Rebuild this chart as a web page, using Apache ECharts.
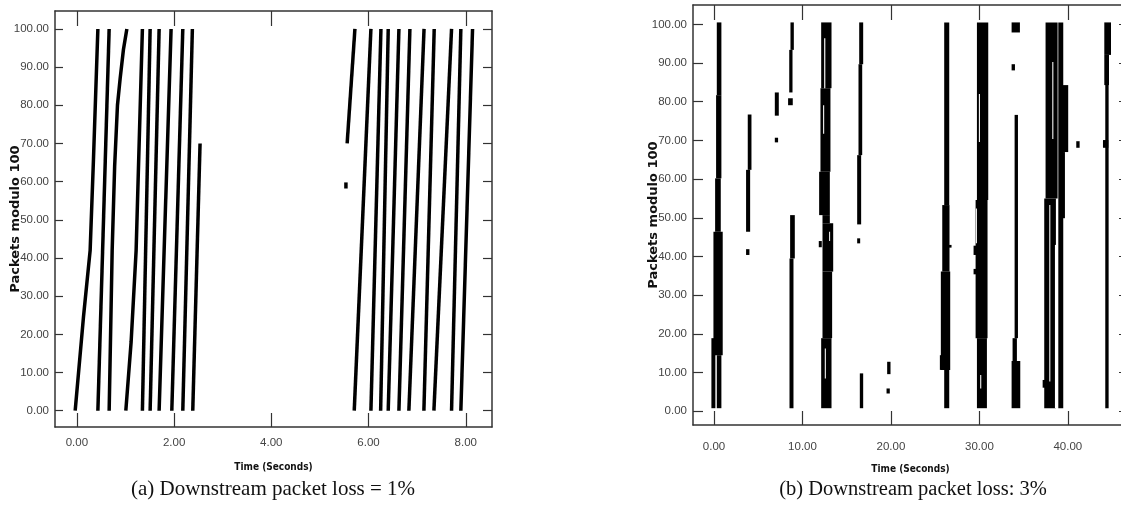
<!DOCTYPE html>
<html>
<head>
<meta charset="utf-8">
<script src="https://cdn.jsdelivr.net/npm/echarts@6/dist/echarts.min.js"></script>
<style>
  html, body { margin: 0; padding: 0; background: #fff; }
  #chart { width: 1121px; height: 505px; }
</style>
</head>
<body>
<div id="chart"></div>
<script>
// Tick positions for both panels
const xTicksA = [0, 2, 4, 6, 8];
const xTicksB = [0, 10, 20, 30, 40];
const yTicks = [0, 10, 20, 30, 40, 50, 60, 70, 80, 90, 100];

// Panel (a): each trace is a run of packets, [time (s), sequence mod 100] points
const strokesA = [
  [[-0.035, 0], [0.136, 24.6], [0.273, 42], [0.341, 65.7], [0.432, 100]],
  [[0.432, 0], [0.664, 100]],
  [[0.664, 0], [0.726, 42], [0.777, 64], [0.835, 80], [0.890, 87], [0.958, 94.6], [1.028, 100]],
  [[1.007, 0], [1.116, 18], [1.219, 42], [1.348, 100]],
  [[1.348, 0], [1.507, 100]],
  [[1.507, 0], [1.692, 100]],
  [[1.692, 0], [1.938, 100]],
  [[1.953, 0], [2.179, 100]],
  [[2.179, 0], [2.376, 100]],
  [[2.384, 0], [2.534, 70]],
  [[5.560, 70], [5.720, 100]],
  [[5.535, 58.2], [5.535, 59.8]],
  [[5.706, 0], [6.049, 100]],
  [[6.049, 0], [6.255, 100]],
  [[6.249, 0], [6.405, 100]],
  [[6.405, 0], [6.625, 100]],
  [[6.625, 0], [6.851, 100]],
  [[6.830, 0], [7.142, 100]],
  [[7.139, 0], [7.351, 100]],
  [[7.345, 0], [7.708, 100]],
  [[7.708, 0], [7.899, 100]],
  [[7.899, 0], [8.140, 100]]
];

// Panel (b): received packet bursts, [start s, end s, low seq, high seq]
const burstsB = [
  [0.31, 0.83, 81.7, 100.5],
  [0.23, 0.83, 60.2, 81.7],
  [0.12, 0.76, 46.4, 60.2],
  [-0.07, 0.98, 14.5, 46.4],
  [0.31, 0.83, 0.8, 14.5],
  [-0.30, 0.15, 0.8, 18.9],
  [3.81, 4.23, 62.4, 76.7],
  [3.62, 4.08, 46.4, 62.4],
  [3.62, 4.00, 40.4, 41.9],
  [6.87, 7.32, 76.4, 82.4],
  [6.87, 7.24, 69.5, 70.7],
  [8.64, 9.02, 93.4, 100.5],
  [8.50, 8.87, 82.4, 93.4],
  [8.37, 8.90, 79.1, 80.9],
  [8.60, 9.13, 39.5, 50.7],
  [8.53, 8.98, 0.8, 39.5],
  [12.11, 13.28, 83.5, 100.5],
  [12.03, 13.16, 61.9, 83.5],
  [11.88, 13.09, 50.7, 61.9],
  [12.26, 13.09, 48.6, 50.7],
  [12.26, 13.47, 36.1, 48.6],
  [12.26, 13.35, 18.9, 36.1],
  [12.11, 13.28, 0.8, 18.9],
  [11.84, 12.18, 42.4, 44.0],
  [16.41, 16.86, 89.7, 100.5],
  [16.33, 16.75, 66.2, 89.7],
  [16.18, 16.63, 48.3, 66.2],
  [16.18, 16.52, 43.4, 44.7],
  [16.48, 16.86, 0.8, 9.8],
  [19.57, 19.95, 9.6, 12.8],
  [19.50, 19.87, 4.6, 5.9],
  [26.02, 26.59, 53.3, 100.5],
  [25.80, 26.62, 36.1, 53.3],
  [25.64, 26.70, 10.7, 36.1],
  [26.02, 26.59, 0.8, 10.7],
  [26.40, 26.85, 42.3, 43.0],
  [25.53, 26.02, 10.7, 14.5],
  [29.72, 31.00, 54.6, 100.5],
  [29.57, 30.92, 18.9, 54.6],
  [29.72, 30.85, 0.8, 18.9],
  [29.34, 29.87, 40.4, 42.8],
  [29.34, 29.87, 35.4, 36.8],
  [33.64, 34.58, 97.9, 100.5],
  [33.64, 34.02, 88.1, 89.7],
  [33.98, 34.36, 18.9, 76.6],
  [33.75, 34.24, 13.0, 18.9],
  [33.64, 34.62, 0.8, 13.0],
  [37.48, 38.84, 55.0, 100.5],
  [37.33, 38.65, 0.8, 55.0],
  [38.92, 39.48, 0.8, 100.5],
  [39.41, 40.04, 67.0, 84.3],
  [39.14, 39.67, 49.9, 67.0],
  [37.15, 37.71, 6.1, 8.1],
  [40.95, 41.33, 68.1, 69.8],
  [44.12, 44.88, 92.1, 100.5],
  [44.12, 44.65, 84.3, 92.1],
  [44.23, 44.61, 0.8, 84.3],
  [43.97, 44.57, 68.1, 70.1]
];

// Panel (b): short runs of missing packets inside the dense bursts
const holesB = [
  [12.45, 12.58, 83.5, 96.4],
  [12.33, 12.45, 71.7, 79.1],
  [13.01, 13.12, 44.0, 46.4],
  [12.52, 12.64, 8.5, 16.2],
  [29.94, 30.06, 69.6, 82.0],
  [29.60, 29.72, 43.4, 52.4],
  [30.09, 30.21, 5.9, 9.4],
  [38.24, 38.36, 70.4, 90.3],
  [37.90, 38.02, 7.7, 53.3],
  [38.54, 38.66, 0.8, 43.0]
];

const LABEL_FONT = '"Liberation Sans", Arial, sans-serif';
const fmt2 = v => Number(v).toFixed(2);
const frameColor = '#333';

function xAxesFor(gridIndex, min, max, ticks, labelMargin, nameGap) {
  return [
    {
      gridIndex, type: 'value', position: 'bottom', min, max,
      axisLine: { show: true, onZero: false, lineStyle: { color: frameColor, width: 1.5 } },
      axisTick: { show: true, inside: true, length: 14, customValues: ticks, lineStyle: { color: frameColor, width: 1.2 } },
      axisLabel: { show: true, customValues: ticks, formatter: fmt2, margin: labelMargin,
                   fontFamily: LABEL_FONT, fontSize: 11.5, color: '#444' },
      splitLine: { show: false },
      name: 'Time (Seconds)', nameLocation: 'middle', nameGap, nameMoveOverlap: false,
      nameTextStyle: { fontFamily: '"DejaVu Sans Condensed", sans-serif', fontWeight: 'bold', fontSize: 10, color: '#111' }
    },
    {
      gridIndex, type: 'value', position: 'top', min, max,
      axisLine: { show: true, onZero: false, lineStyle: { color: frameColor, width: 1.5 } },
      axisTick: { show: true, inside: true, length: 15, customValues: ticks, lineStyle: { color: frameColor, width: 1.2 } },
      axisLabel: { show: false },
      splitLine: { show: false }
    }
  ];
}

function yAxesFor(gridIndex, min, max, leftTick, rightTick) {
  return [
    {
      gridIndex, type: 'value', position: 'left', min, max,
      axisLine: { show: true, onZero: false, lineStyle: { color: frameColor, width: 1.5 } },
      axisTick: { show: true, inside: true, length: leftTick, customValues: yTicks, lineStyle: { color: frameColor, width: 1.2 } },
      axisLabel: { show: true, customValues: yTicks, formatter: fmt2, margin: 6,
                   fontFamily: LABEL_FONT, fontSize: 11.5, color: '#444' },
      splitLine: { show: false },
      name: 'Packets modulo 100', nameLocation: 'middle', nameGap: 33, nameRotate: 90, nameMoveOverlap: false,
      nameTextStyle: { fontFamily: '"DejaVu Sans", sans-serif', fontWeight: 'bold', fontSize: 13, color: '#111' }
    },
    {
      gridIndex, type: 'value', position: 'right', min, max,
      axisLine: { show: true, onZero: false, lineStyle: { color: frameColor, width: 1.5 } },
      axisTick: { show: true, inside: true, length: rightTick, customValues: yTicks, lineStyle: { color: frameColor, width: 1.2 } },
      axisLabel: { show: false },
      splitLine: { show: false }
    }
  ];
}

function rectItem(fill) {
  return function (params, api) {
    const p0 = api.coord([api.value(0), api.value(3)]);
    const p1 = api.coord([api.value(1), api.value(2)]);
    return {
      type: 'rect',
      shape: { x: p0[0], y: p0[1], width: p1[0] - p0[0], height: p1[1] - p0[1] },
      style: { fill }
    };
  };
}

const chart = echarts.init(document.getElementById('chart'), null, { renderer: 'canvas' });

chart.setOption({
  animation: false,
  backgroundColor: '#fff',
  title: [
    { text: '(a) Downstream packet loss = 1%', left: 268, top: 474, textAlign: 'center',
      textStyle: { fontFamily: '"Liberation Serif", "Times New Roman", serif', fontWeight: 'normal', fontSize: 21, color: '#111' } },
    { text: '(b) Downstream packet loss: 3%', left: 908, top: 474, textAlign: 'center',
      textStyle: { fontFamily: '"Liberation Serif", "Times New Roman", serif', fontWeight: 'normal', fontSize: 20.5, color: '#111' } }
  ],
  grid: [
    { left: 55, top: 11, width: 437, height: 416, outerBoundsMode: 'none', containLabel: false },
    { left: 693, top: 5, width: 435, height: 420, outerBoundsMode: 'none', containLabel: false }
  ],
  xAxis: [
    ...xAxesFor(0, -0.45, 8.54, xTicksA, 10, 35),
    ...xAxesFor(1, -2.38, 46.8, xTicksB, 16, 39)
  ],
  yAxis: [
    ...yAxesFor(0, -4.27, 104.7, 8, 9),
    ...yAxesFor(1, -3.54, 105.0, 10, 9)
  ],
  series: [
    {
      type: 'custom', name: 'loss 1%', xAxisIndex: 0, yAxisIndex: 0,
      data: strokesA.map(s => s[0]),
      encode: { x: 0, y: 1 },
      renderItem: function (params, api) {
        const pts = strokesA[params.dataIndex].map(p => api.coord(p));
        return { type: 'polyline', shape: { points: pts },
                 style: { stroke: '#000', lineWidth: 3.5, fill: null, lineCap: 'butt', lineJoin: 'round' } };
      }
    },
    {
      type: 'custom', name: 'loss 3%', xAxisIndex: 2, yAxisIndex: 2,
      data: burstsB,
      encode: { x: [0, 1], y: [2, 3] },
      renderItem: rectItem('#000')
    },
    {
      type: 'custom', name: 'gaps 3%', xAxisIndex: 2, yAxisIndex: 2, z: 3,
      data: holesB,
      encode: { x: [0, 1], y: [2, 3] },
      renderItem: rectItem('#fff')
    }
  ]
});
</script>
</body>
</html>
